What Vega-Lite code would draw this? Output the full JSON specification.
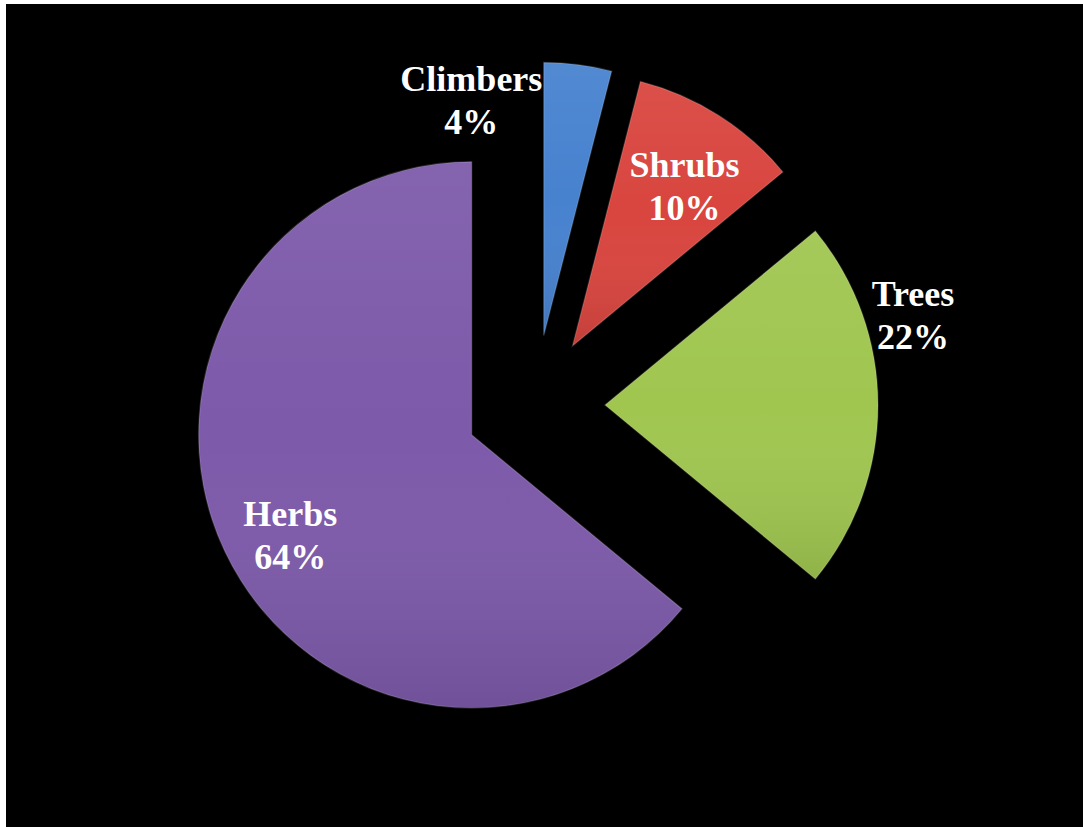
{
  "$schema": "https://vega.github.io/schema/vega-lite/v6.json",
  "autosize": {"type": "fit", "contains": "padding"},
  "width": 1083,
  "height": 827,
  "padding": {"left": 6, "top": 4, "right": 0, "bottom": 0},
  "background": "white",
  "view": {"fill": "black", "stroke": null},
  "data": {
    "values": [
      {"category": "Climbers", "value": 4},
      {"category": "Shrubs", "value": 10},
      {"category": "Trees", "value": 22},
      {"category": "Herbs", "value": 64}
    ]
  },
  "encoding": {
    "theta": {"field": "value", "type": "quantitative", "stack": true},
    "order": {"field": "value", "sort": "ascending"}
  },
  "layer": [
    {
      "mark": {
        "type": "arc",
        "radius": 273,
        "x": {"expr": "width/2 - 9.5 + 70*sin((datum.value_start + datum.value_end)*PI/100)"},
        "y": {"expr": "height/2 - 10.5 - 70*cos((datum.value_start + datum.value_end)*PI/100)"}
      },
      "encoding": {
        "color": {
          "field": "category",
          "type": "nominal",
          "legend": null,
          "scale": {
            "domain": ["Climbers", "Shrubs", "Trees", "Herbs"],
            "range": ["#4782cf", "#d9453f", "#a0c650", "#7d5aaa"]
          }
        }
      }
    },
    {
      "mark": {
        "type": "arc",
        "radius": 273,
        "x": {"expr": "width/2 - 9.5 + 70*sin((datum.value_start + datum.value_end)*PI/100)"},
        "y": {"expr": "height/2 - 10.5 - 70*cos((datum.value_start + datum.value_end)*PI/100)"},
        "color": {
          "gradient": "linear",
          "x1": 0, "y1": 0, "x2": 0, "y2": 1,
          "stops": [
            {"offset": 0, "color": "rgba(255,255,255,0.06)"},
            {"offset": 0.5, "color": "rgba(255,255,255,0)"},
            {"offset": 1, "color": "rgba(0,0,0,0.1)"}
          ]
        },
        "stroke": "rgba(255,255,255,0.15)",
        "strokeWidth": 1.5
      }
    },
    {
      "transform": [
        {"calculate": "datum.category + '\\n' + datum.value + '%'", "as": "label"}
      ],
      "mark": {
        "type": "text",
        "font": "Liberation Serif",
        "fontWeight": "bold",
        "fontSize": 36,
        "lineHeight": 43,
        "lineBreak": "\n",
        "color": "white",
        "align": "center",
        "baseline": "middle",
        "x": {"expr": "width/2 - 9.5"},
        "y": {"expr": "height/2 - 10.5"},
        "radius": {"expr": "datum.category == 'Climbers' ? 306 : datum.category == 'Shrubs' ? 264 : datum.category == 'Trees' ? 378 : 277"},
        "dx": {"expr": "datum.category == 'Climbers' ? -102 : datum.category == 'Shrubs' ? 8 : datum.category == 'Trees' ? 0 : 6"},
        "dy": {"expr": "datum.category == 'Climbers' ? -21 : datum.category == 'Shrubs' ? -16 : datum.category == 'Trees' ? -110 : -8"}
      },
      "encoding": {
        "text": {"field": "label", "type": "nominal"}
      }
    }
  ]
}
